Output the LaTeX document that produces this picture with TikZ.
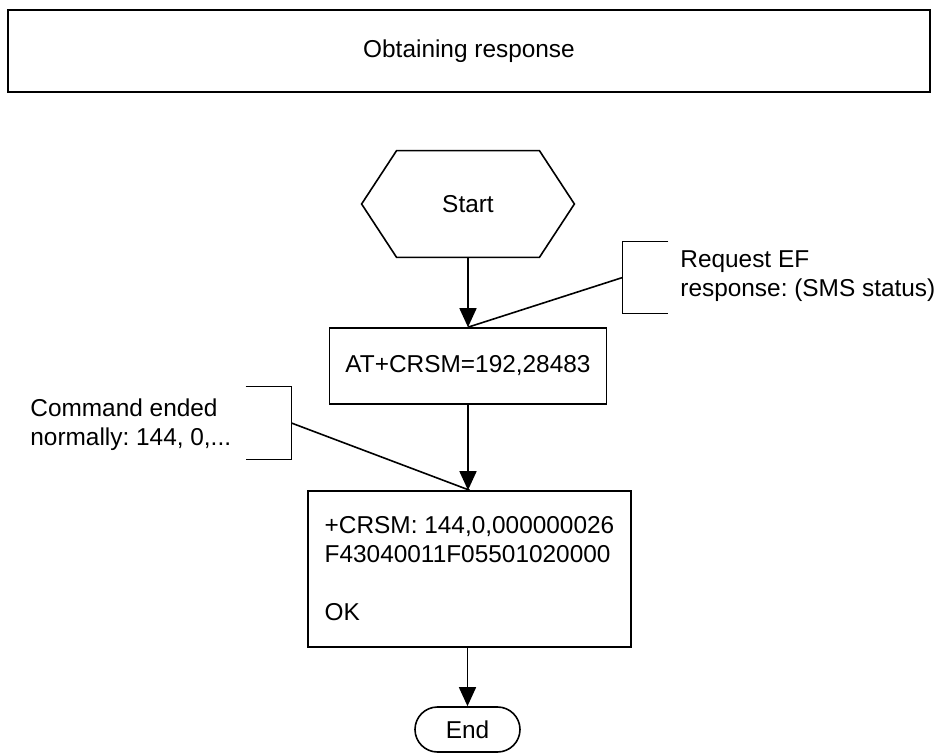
\documentclass[tikz,border=0pt]{standalone}
\usepackage{fontspec}
\setmainfont{Liberation Sans}
\usetikzlibrary{arrows.meta,shapes.misc}
\begin{document}
\frenchspacing
\begin{tikzpicture}[x=0.5pt,y=-0.5pt,
  every node/.style={font=\fontsize{12.2}{14.5}\selectfont, inner sep=0pt},
  box/.style={draw, line width=0.8pt, rectangle},
  ghost/.style={rectangle},
  arr/.style={line width=0.8pt, -{Triangle[length=9.5pt,width=8.5pt]}},
  ln/.style={line width=0.8pt},
  endbox/.style={draw, line width=0.8pt, rounded rectangle, minimum width=52.5pt, minimum height=22.5pt}]
\useasboundingbox (0,0) rectangle (938,754);
\node[box, minimum width=461pt, minimum height=41pt] (top) at (469,51) {Obtaining response};
\node[ghost, minimum width=106pt, minimum height=53pt] (start) at (468,204) {Start};
\draw[ln] (start.west) -- ([xshift=17.5pt]start.north west) -- ([xshift=-17.5pt]start.north east) -- (start.east) -- ([xshift=-17.5pt]start.south east) -- ([xshift=17.5pt]start.south west) -- cycle;
\node[box, minimum width=138.5pt, minimum height=38pt] (at) at (468,366) {AT+CRSM=192,28483};
\node[box, minimum width=161.5pt, minimum height=78pt, align=left] (crsm) at (469.5,569) {+CRSM: 144,0,000000026\\F43040011F05501020000\\[14.5pt]OK};
\node[endbox] (end) at (467.5,729.5) {End};
\draw[arr] (start.south) -- (start.south |- at.north);
\draw[arr] (at.south) -- (at.south |- crsm.north);
\draw[arr] (crsm.south -| end.north) -- (end.north);
% annotation right
\node[ghost, minimum width=22.5pt, minimum height=35.5pt] (reqbr) at (645.5,277.5) {};
\draw[ln] (reqbr.north east) -- (reqbr.north west) -- (reqbr.south west) -- (reqbr.south east);
\draw[ln] (reqbr.west) -- (at.north);
\node[align=left, anchor=west] (reqtxt) at (680,276) {Request EF\\response: (SMS status)};
% annotation left
\node[ghost, minimum width=22.5pt, minimum height=36pt] (cmdbr) at (268.5,423) {};
\draw[ln] (cmdbr.north west) -- (cmdbr.north east) -- (cmdbr.south east) -- (cmdbr.south west);
\draw[ln] (cmdbr.east) -- (crsm.north);
\node[align=left, anchor=west] (cmdtxt) at (30,425) {Command ended\\normally: 144, 0,...};
\end{tikzpicture}
\end{document}
